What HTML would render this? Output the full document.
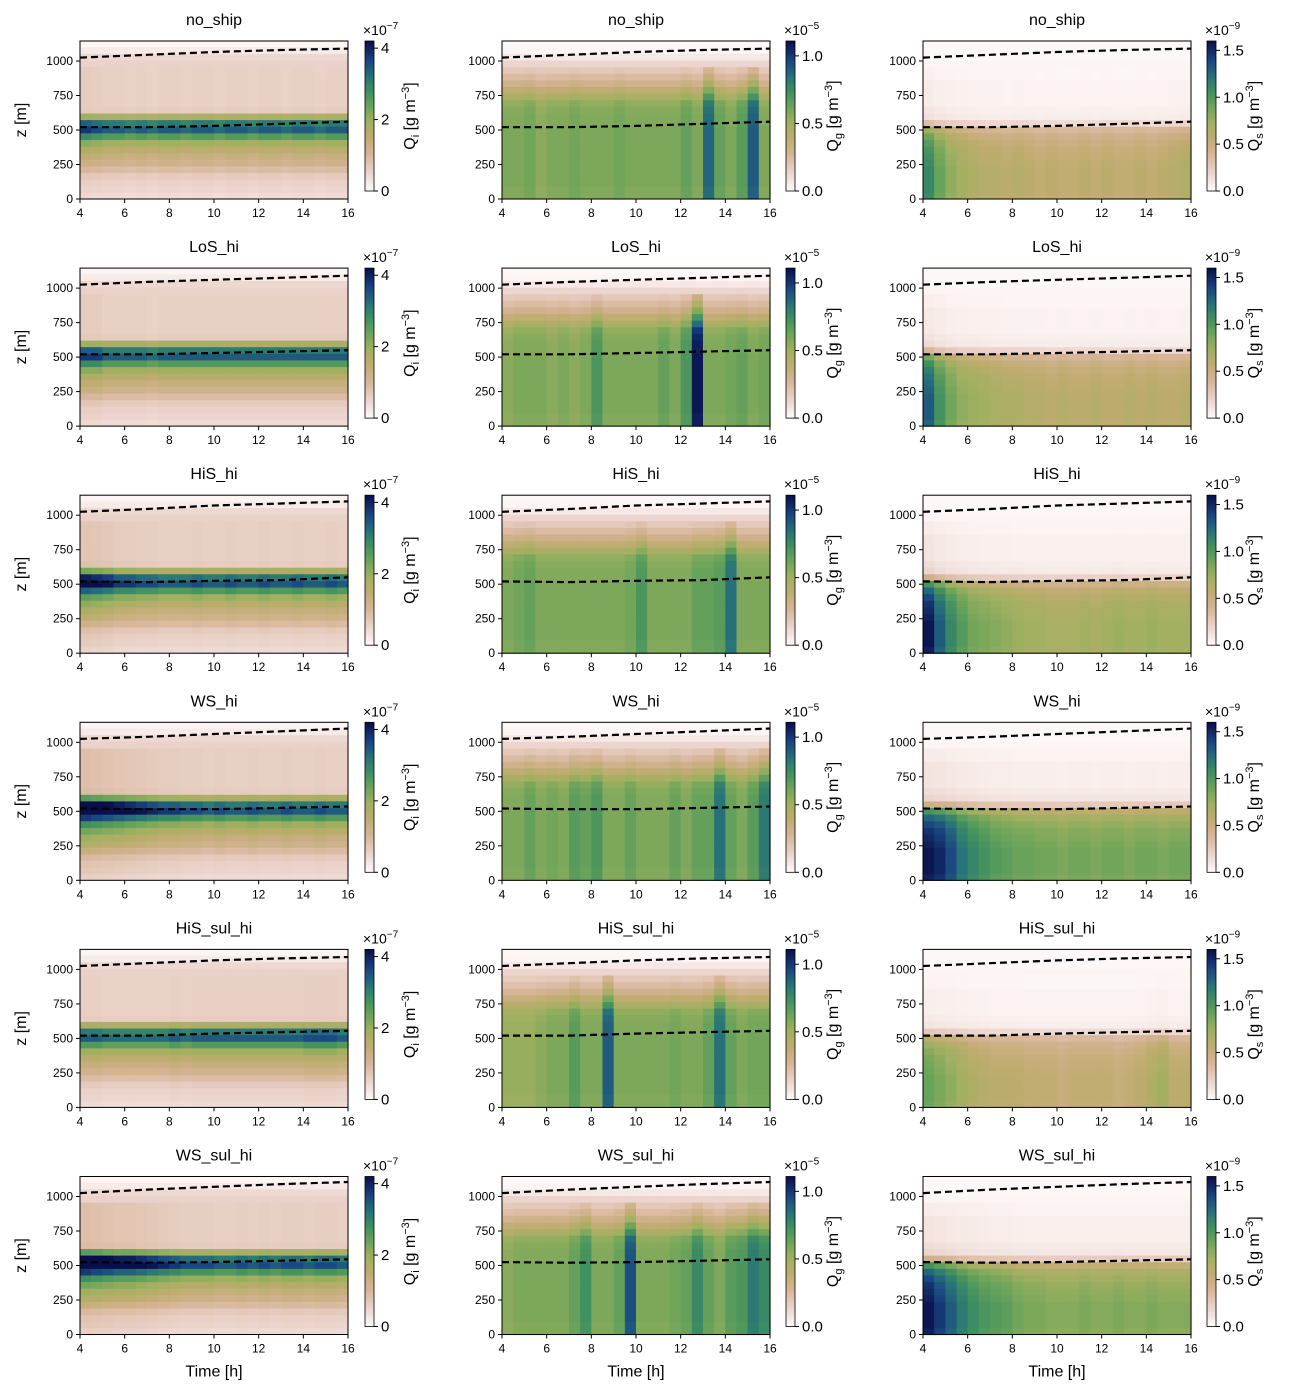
<!DOCTYPE html>
<html><head><meta charset="utf-8">
<style>
html,body{margin:0;padding:0;background:#fff;}
svg text{font-family:"Liberation Sans","DejaVu Sans",sans-serif;fill:#000;}
</style></head>
<body>
<svg id="fig" width="1289" height="1391" viewBox="0 0 1289 1391" xmlns="http://www.w3.org/2000/svg"></svg>
<script>
// ---------- data ----------
const runNames = ["no_ship","LoS_hi","HiS_hi","WS_hi","HiS_sul_hi","WS_sul_hi"];
const timeTicks = [4,6,8,10,12,14,16];
const zTicks = [0,250,500,750,1000];
const zLevels = [0,48,96,144,192,240,288,336,384,432,480,528,576,624,672,720,768,816,864,912,960,1008,1056,1104];
// normalized vertical profiles (fraction of colorbar max)
const profileQi = [0.1,0.12,0.13,0.16,0.22,0.28,0.32,0.38,0.46,0.62,0.82,0.74,0.42,0.15,0.14,0.14,0.14,0.14,0.14,0.14,0.13,0.11,0.05,0.02];
const profileQg = [0.52,0.52,0.53,0.53,0.53,0.53,0.53,0.53,0.53,0.53,0.53,0.52,0.52,0.51,0.49,0.42,0.35,0.28,0.22,0.17,0.12,0.06,0.02,0.01];
const profileQs = [0.4,0.41,0.41,0.41,0.41,0.4,0.39,0.38,0.36,0.33,0.27,0.12,0.05,0.04,0.03,0.03,0.03,0.03,0.02,0.02,0.02,0.01,0.01,0.01];
const timeSteps = [4,4.5,5,5.5,6,6.5,7,7.5,8,8.5,9,9.5,10,10.5,11,11.5,12,12.5,13,13.5,14,14.5,15,15.5];
// time modulation per run and variable
const modQi = [
 [1.1,1.05,1,1,0.95,1,0.95,1,1,0.95,1,1,0.95,1,1,0.95,1,1,0.95,1,1,0.95,1,1],
 [1.1,1.1,1,1,1,1,0.95,1,1,1,1,1,1,1,1,1,1,1,1,1,1,1,1,1],
 [1.3,1.25,1.2,1.1,1.1,1.05,1.05,1,1,1,1.05,1,1,1.05,1,1,1.05,1,1,1.05,1,1,1.05,1],
 [1.45,1.4,1.35,1.3,1.25,1.2,1.15,1.1,1.1,1.05,1.05,1,1.05,1,1,1.05,1,1,1.05,1,1,1.05,1,1],
 [1,1,0.95,0.95,0.95,0.95,0.95,0.95,1,0.95,1,1,1,1,1,1,1,1,1,1,1.05,1.05,1.05,1],
 [1.45,1.4,1.35,1.3,1.3,1.25,1.2,1.15,1.1,1.05,1.05,1.05,1,1,1.05,1,1.05,1,1.05,1.05,1,1.05,1.05,1]];
const modQg = [
 [1,1,1.05,0.95,1,1,1.05,1,1,1,1.05,1,1,1,1,1,1.1,1,1.5,1.1,1,1.15,1.55,1],
 [0.95,1,1,1,0.95,1,0.95,1,1.2,1,1,1,1,1,1.1,1,1.2,1.85,1,1,1.05,1.1,1,1.05],
 [1,1.05,1.1,1,1,1,1,1,1,1,1,1.05,1.2,1,1,1,1,1.1,1.1,1.15,1.45,1,1,1],
 [1,1,1.1,1,1.05,1,1.15,1.1,1.2,1,1,1.1,1,1,1,1.1,1,1.1,1.1,1.45,1.1,1,1.15,1.4],
 [0.9,0.9,0.9,0.95,1,1,1.15,1,1,1.55,1,1,1,1,1,1.05,1,1,1.1,1.45,1.1,1,1.05,1.05],
 [0.95,1,1,1,1,1,1.1,1.25,1,1,1.1,1.6,1,1,1,1.05,1.1,1.3,1.1,1,1.15,1.2,1.4,1.3]];
const modQs = [
 [1.7,1.4,1.2,1.1,1,0.95,0.95,0.9,0.95,0.9,0.85,0.9,0.85,0.85,0.9,0.85,0.9,0.85,0.85,0.9,0.85,0.9,0.95,1],
 [2.0,1.6,1.35,1.2,1.15,1.1,1.05,1,1,0.95,0.95,0.9,0.95,0.9,0.9,0.95,0.9,0.9,0.95,0.9,0.95,0.9,0.9,0.95],
 [2.4,2.0,1.7,1.5,1.35,1.3,1.25,1.2,1.15,1.1,1.1,1.05,1.05,1.05,1.1,1.05,1.1,1.15,1.1,1.1,1.15,1.1,1.1,1.1],
 [2.4,2.3,2.1,1.85,1.7,1.6,1.5,1.45,1.4,1.4,1.35,1.35,1.3,1.35,1.35,1.3,1.35,1.35,1.3,1.35,1.35,1.3,1.35,1.35],
 [1.4,1.3,1.2,1.1,1,0.95,0.9,0.9,0.9,0.85,0.85,0.85,0.8,0.85,0.85,0.85,0.85,0.8,0.85,0.9,1,1.1,0.9,0.9],
 [2.4,2.2,2.0,1.8,1.65,1.55,1.5,1.45,1.35,1.3,1.3,1.25,1.25,1.25,1.3,1.25,1.25,1.3,1.25,1.25,1.3,1.25,1.25,1.25]];
const lineTimes = [4,7,10,13,16];
const topInv = [
 [1025,1045,1065,1080,1090],[1025,1045,1060,1075,1090],[1025,1045,1070,1085,1100],
 [1025,1040,1060,1080,1100],[1025,1045,1065,1080,1090],[1025,1050,1070,1090,1105]];
const botInv = [
 [520,520,530,545,560],[520,520,530,540,550],[520,515,525,530,550],
 [520,515,515,525,535],[520,520,535,545,555],[525,520,525,535,545]];
const cbVarLabels = ["Q","Q","Q"];
const cbSubs = ["i","g","s"];
const cbExps = ["−7","−5","−9"];
const cbMax = [4.2,1.11,1.6];
const cbTicks = [[0,2,4],[0.0,0.5,1.0],[0.0,0.5,1.0,1.5]];
const cbTickLabels = [["0","2","4"],["0.0","0.5","1.0"],["0.0","0.5","1.0","1.5"]];

// ---------- layout ----------
const colX = [80,502,923], axW = 268, axH = 158, rowY0 = 41, rowDy = 227.1;
const cbX = [365,786,1207], cbW = 9, cbH = 150;
const zMax = 1145, tMin = 4, tMax = 16;
const NS = "http://www.w3.org/2000/svg";
const svg = document.getElementById("fig");
function el(tag, attrs, parent){const e=document.createElementNS(NS,tag);for(const k in attrs)e.setAttribute(k,attrs[k]);(parent||svg).appendChild(e);return e;}

const stops = [[0,[255,251,251]],[0.12,[236,213,206]],[0.25,[214,180,150]],[0.36,[190,172,110]],[0.46,[160,176,96]],[0.56,[110,165,90]],[0.66,[65,145,95]],[0.76,[40,115,120]],[0.87,[25,70,130]],[1,[10,15,75]]];
function cmap(v){v=Math.max(0,Math.min(1,v));for(let i=1;i<stops.length;i++){if(v<=stops[i][0]){const a=stops[i-1],b=stops[i],f=(v-a[0])/(b[0]-a[0]);const c=a[1].map((x,j)=>Math.round(x+(b[1][j]-x)*f));return `rgb(${c[0]},${c[1]},${c[2]})`;}}return "rgb(10,15,75)";}

const profiles=[profileQi,profileQg,profileQs], mods=[modQi,modQg,modQs];
for(let r=0;r<6;r++){
 const y0 = rowY0 + r*rowDy;
 for(let c=0;c<3;c++){
  const x0 = colX[c];
  const xs = t => x0 + (t-tMin)/(tMax-tMin)*axW;
  const ys = z => y0 + axH - z/zMax*axH;
  const g = el("g",{});
  
  
  const dt = 0.5, dz = 48;
  for(let ti=0;ti<timeSteps.length;ti++){
   for(let zi=0;zi<zLevels.length;zi++){
    let p = profiles[c][zi], m = mods[c][r][ti];
    let v = (zLevels[zi] < 950) ? p*m : p;
    const rc = el("rect",{x:xs(timeSteps[ti]).toFixed(2),y:ys(zLevels[zi]+dz).toFixed(2),width:(axW*dt/(tMax-tMin)+0.6).toFixed(2),height:(axH*dz/zMax+0.6).toFixed(2),fill:cmap(v)},g);
    
    
   }
  }
  for(const arr of [topInv[r],botInv[r]]){
   const pts = lineTimes.map((t,i)=>xs(t).toFixed(1)+","+ys(arr[i]).toFixed(1)).join(" ");
   const pl = el("polyline",{points:pts,fill:"none",stroke:"#000","stroke-width":2.2,"stroke-dasharray":"7,4"});
   
   
  }
  el("rect",{x:x0,y:y0,width:axW,height:axH,fill:"none",stroke:"#000","stroke-width":1});
  const tt = el("text",{x:x0+axW/2,y:y0-16,"text-anchor":"middle","font-size":16});
  tt.textContent = runNames[r];
  
  
  timeTicks.forEach(t=>{
   el("line",{x1:xs(t),x2:xs(t),y1:y0+axH,y2:y0+axH+4,stroke:"#000"});
   const tx=el("text",{x:xs(t),y:y0+axH+18,"text-anchor":"middle","font-size":12});
   tx.textContent=t;
   
   
  });
  zTicks.forEach(z=>{
   el("line",{x1:x0-4,x2:x0,y1:ys(z),y2:ys(z),stroke:"#000"});
   const tx=el("text",{x:x0-7,y:ys(z)+4,"text-anchor":"end","font-size":12});
   tx.textContent=z;
   
   
  });
  if(c===0){
   const yl=el("text",{x:0,y:0,"text-anchor":"middle","font-size":16,transform:`translate(26,${y0+axH/2}) rotate(-90)`});
   yl.textContent="z [m]";
   
   
  }
  if(r===5){
   const xl=el("text",{x:x0+axW/2,y:y0+axH+42,"text-anchor":"middle","font-size":16});
   xl.textContent="Time [h]";
   
   
  }
  const cx=cbX[c], cy=y0;
  const cbg=el("g",{});
  
  
  for(let i=0;i<60;i++){
   el("rect",{x:cx,y:(cy+cbH-(i+1)*cbH/60).toFixed(2),width:cbW,height:(cbH/60+0.5).toFixed(2),fill:cmap((i+0.5)/60)},cbg);
  }
  el("rect",{x:cx,y:cy,width:cbW,height:cbH,fill:"none",stroke:"#000","stroke-width":0.8},cbg);
  cbTicks[c].forEach((v,i)=>{
   const yy=cy+cbH-v/cbMax[c]*cbH;
   el("line",{x1:cx+cbW,x2:cx+cbW+4,y1:yy,y2:yy,stroke:"#000"},cbg);
   const tx=el("text",{x:cx+cbW+7,y:yy+5,"font-size":15},cbg);
   tx.textContent=cbTickLabels[c][i];
   
   
  });
  const ex=el("text",{x:cx-2,y:cy-6,"font-size":14},cbg);
  ex.innerHTML=`×10<tspan dy="-6" font-size="10">${cbExps[c]}</tspan>`;
  
  
  const lx = cx + (c===0?50:52);
  const lb=el("text",{x:0,y:0,"text-anchor":"middle","font-size":16,transform:`translate(${lx},${cy+cbH/2}) rotate(-90)`},cbg);
  lb.innerHTML=`${cbVarLabels[c]}<tspan dy="4" font-size="11">${cbSubs[c]}</tspan><tspan dy="-4"> [g m</tspan><tspan dy="-6" font-size="11">−3</tspan><tspan dy="6">]</tspan>`;
  
  
 }
}
</script>
</body></html>
